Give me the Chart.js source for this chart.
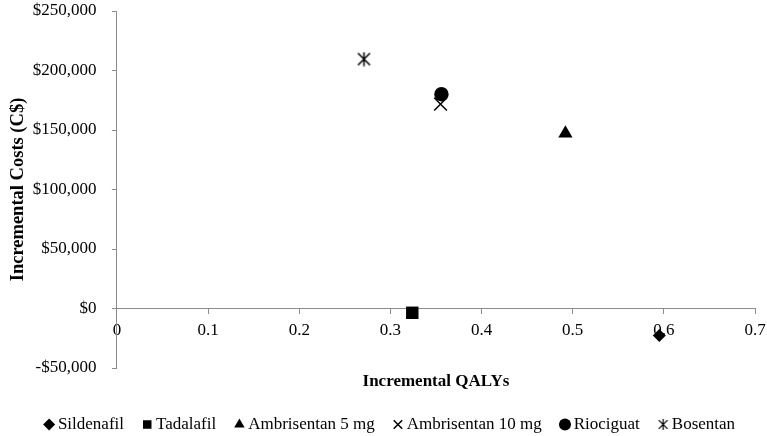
<!DOCTYPE html>
<html>
<head>
<meta charset="utf-8">
<script src="https://cdn.jsdelivr.net/npm/chart.js@4"></script>
<style>
  html, body { margin: 0; padding: 0; background: #fff; }
  #wrap { width: 767px; height: 436px; }
</style>
</head>
<body>
<div id="wrap"><canvas id="ce-chart"></canvas></div>
<script>
// Cost-effectiveness plane data
const drugs = ['Sildenafil', 'Tadalafil', 'Ambrisentan 5 mg', 'Ambrisentan 10 mg', 'Riociguat', 'Bosentan'];
const qalys = [0.595, 0.324, 0.492, 0.355, 0.356, 0.271];
const costs = [-22700, -3600, 147100, 171700, 180100, 209600];
const yTicks = [-50000, 0, 50000, 100000, 150000, 200000, 250000];
const xTicks = [0, 0.1, 0.2, 0.3, 0.4, 0.5, 0.6, 0.7];

const FONT = "'Liberation Serif', 'Times New Roman', serif";
const AXIS_GREY = '#8c8c8c';

// Excel-style "star" marker: an X with a vertical bar
function starMarker(size, lw) {
  const c = document.createElement('canvas');
  c.width = size;
  c.height = size;
  const g = c.getContext('2d');
  g.strokeStyle = '#000';
  g.lineWidth = lw;
  const m = size / 2, d = size * 0.4;
  g.beginPath();
  g.moveTo(m - d, m - d); g.lineTo(m + d, m + d);
  g.moveTo(m + d, m - d); g.lineTo(m - d, m + d);
  g.moveTo(m, m - d - 1); g.lineTo(m, m + d + 1);
  g.stroke();
  return c;
}

const markers = ['rectRot', 'rect', 'triangle', 'crossRot', 'circle', starMarker(15, 1.5)];
const radii = [6.5, 8.8, 8.2, 9, 7.2, 7];
const legendStar = starMarker(11, 1.2);

// nudge the legend a bit to the right, like the original
const legendShift = {
  id: 'legendShift',
  afterLayout(chart) {
    if (!chart.legend) return;
    chart.legend.left += 9;
    chart.legend.right += 9;
  }
};

const ctx = document.getElementById('ce-chart');

const datasets = drugs.map((name, i) => ({
  label: name,
  data: [{x: qalys[i], y: costs[i]}],
  pointStyle: markers[i],
  pointRadius: radii[i],
  pointHoverRadius: radii[i],
  backgroundColor: '#000',
  borderColor: '#000',
  borderWidth: markers[i] === 'crossRot' ? 1.5 : 0
}));

const chart = new Chart(ctx, {
  type: 'scatter',
  data: { datasets },
  plugins: [legendShift],
  options: {
    responsive: true,
    maintainAspectRatio: false,
    animation: false,
    layout: {
      padding: { left: 7, top: 11, right: 8, bottom: -7 }
    },
    scales: {
      x: {
        type: 'linear',
        position: { y: 0 },
        min: 0,
        max: 0.7,
        afterBuildTicks: (axis) => { axis.ticks = xTicks.map(v => ({ value: v })); },
        afterFit: (axis) => { axis.paddingRight = 12; },
        grid: { display: true, drawOnChartArea: false, drawTicks: true, tickLength: 5, color: AXIS_GREY },
        border: { color: AXIS_GREY, width: 1 },
        ticks: {
          color: '#000',
          font: { family: FONT, size: 17 },
          padding: 7,
          maxRotation: 0,
          callback: (value) => value === 0 ? '0' : value.toFixed(1)
        },
        title: {
          display: true,
          text: 'Incremental QALYs',
          color: '#000',
          font: { family: FONT, size: 17, weight: 'bold' },
          padding: { top: 24, bottom: 0 }
        }
      },
      y: {
        type: 'linear',
        position: 'left',
        min: -50000,
        max: 250000,
        afterBuildTicks: (axis) => { axis.ticks = yTicks.map(v => ({ value: v })); },
        afterFit: (axis) => { axis.paddingTop = 10; axis.paddingBottom = 10; },
        grid: { display: true, drawOnChartArea: false, drawTicks: true, tickLength: 5, color: AXIS_GREY },
        border: { color: AXIS_GREY, width: 1 },
        ticks: {
          color: '#000',
          font: { family: FONT, size: 17 },
          padding: 15.5,
          callback: (value) => (value < 0 ? '-$' : '$') + Math.abs(value).toLocaleString('en-US')
        },
        title: {
          display: true,
          text: 'Incremental Costs (C$)',
          color: '#000',
          font: { family: FONT, size: 18.5, weight: 'bold' },
          padding: { top: 0, bottom: -12 }
        }
      }
    },
    plugins: {
      legend: {
        display: true,
        position: 'bottom',
        title: {
          display: true,
          text: '',
          font: { size: 10, lineHeight: 1 },
          padding: { top: 15, bottom: 0 }
        },
        labels: {
          usePointStyle: true,
          boxWidth: 0.5,
          boxHeight: 8.5,
          padding: 23,
          color: '#000',
          font: { family: FONT, size: 17 },
          generateLabels: (c) => {
            const items = Chart.defaults.plugins.legend.labels.generateLabels(c);
            items.forEach(item => {
              if (item.text === 'Bosentan') item.pointStyle = legendStar;
            });
            return items;
          }
        }
      },
      tooltip: { enabled: false }
    }
  }
});
</script>
</body>
</html>
